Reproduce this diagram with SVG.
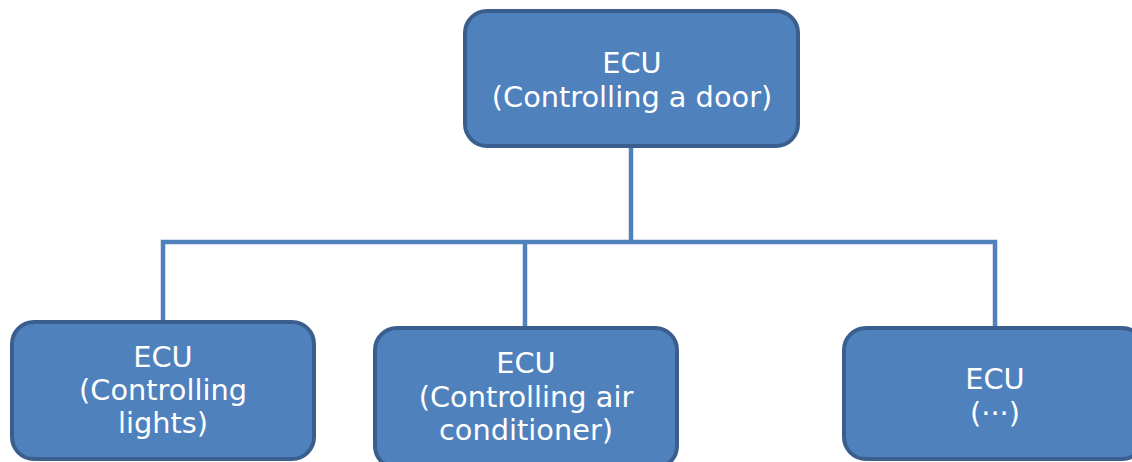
<svg xmlns="http://www.w3.org/2000/svg" width="1132" height="462" viewBox="0 0 1132 462">
<style>
.box{fill:#4F81BD;stroke:#3A5F8E;stroke-width:4}
.lbl{font-family:"DejaVu Sans",Verdana,sans-serif;font-size:28.8px;fill:#FFFFFF;text-anchor:middle}
.wire{fill:none;stroke:#4F81BD;stroke-width:4.5;stroke-linejoin:miter}
</style>
<rect width="1132" height="462" fill="#FFFFFF"/>
<g id="connectors">
<path class="wire" d="M631,147 V242 M163,321 V242 H995 V327 M525,242 V327"/>
</g>
<g id="n-door">
<rect class="box" x="465" y="11" width="333" height="135" rx="22"/>
<text class="lbl" x="632" y="73">ECU</text>
<text class="lbl" x="632" y="107">(Controlling a door)</text>
</g>
<g id="n-lights">
<rect class="box" x="12" y="322" width="302" height="137" rx="22"/>
<text class="lbl" x="163" y="367">ECU</text>
<text class="lbl" x="163" y="400">(Controlling</text>
<text class="lbl" x="163" y="433">lights)</text>
</g>
<g id="n-air">
<rect class="box" x="375" y="328" width="302" height="140" rx="22"/>
<text class="lbl" x="526" y="373">ECU</text>
<text class="lbl" x="526" y="407">(Controlling air</text>
<text class="lbl" x="526" y="440">conditioner)</text>
</g>
<g id="n-etc">
<rect class="box" x="844" y="328" width="300" height="131" rx="22"/>
<text class="lbl" x="995" y="389">ECU</text>
<text class="lbl" x="995" y="423">(···)</text>
</g>
</svg>
